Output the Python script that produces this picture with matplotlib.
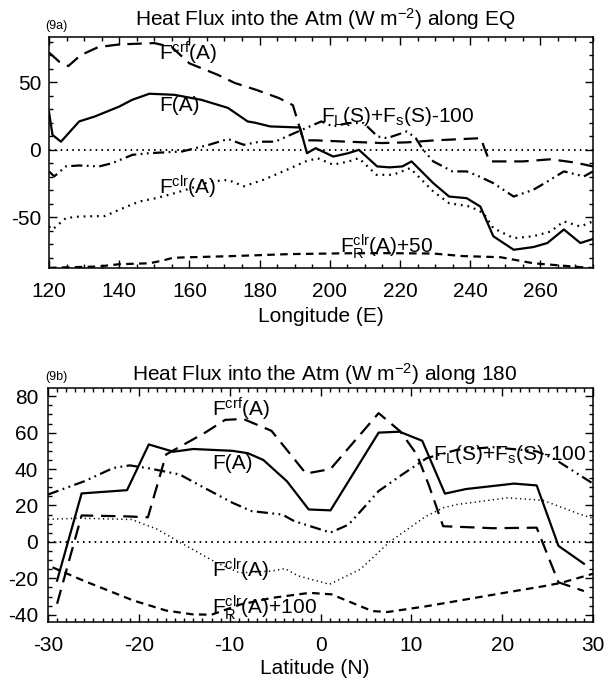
import matplotlib
matplotlib.use("Agg")
import matplotlib.pyplot as plt
from matplotlib.ticker import MultipleLocator

plt.rcParams['font.family'] = ['Liberation Sans', 'DejaVu Sans']
plt.rcParams['mathtext.fontset'] = 'custom'
plt.rcParams['mathtext.rm'] = 'Liberation Sans'
plt.rcParams['mathtext.it'] = 'Liberation Sans:italic'
plt.rcParams['mathtext.bf'] = 'Liberation Sans:bold'
plt.rcParams['axes.unicode_minus'] = False

# ---------------- (9a) along EQ ----------------
lon_crf = [120, 123, 125.5, 129, 134, 140, 150, 155, 160, 168, 173, 179, 185.5, 189.5, 192.5,
           196, 205, 215, 222, 230, 243, 245.5, 255, 263, 270, 275]
val_crf = [72, 65, 62, 70, 76, 78, 79, 76, 64, 55.6, 49.4, 44.4, 38.3, 33, 7,
           7, 6, 5, 5.5, 7, 8.6, -8.6, -8.6, -7, -9.5, -12.3]

lon_fa = [120, 121, 123.4, 128.6, 133, 140, 143.7, 148.6, 155.7, 163.4, 171, 176.6, 178.8, 183, 191.5,
          193.5, 196, 201, 205.3, 208.3, 213.5, 217, 220.7, 223.3, 229.5, 234, 239, 242.9, 246.6,
          252.4, 258, 262, 266.7, 271.4, 275]
val_fa = [28, 11, 6, 21, 24.6, 32, 37, 41.5, 40.7, 37, 31, 21, 20, 17.3, 16.5,
          -2.5, 1.2, -5, -2.5, 0, -12.3, -13, -12.3, -8.6, -24.7, -34.6, -35.8, -42, -64,
          -74, -72, -69, -59, -69, -66]

lon_fl = [120, 121.5, 124.8, 128.6, 134.3, 138, 143.8, 148.6, 158, 165.6, 171, 175.5, 180, 184.4,
          191, 194.3, 197.6, 200.9, 205.3, 209.7, 213.6, 216.3, 222, 224.5, 226.6, 229.5, 235,
          239, 242, 246.6, 252.4, 258, 262, 266.7, 272.4, 275]
val_fl = [-16, -19.7, -12.3, -11.6, -12.3, -9.9, -3.7, -2.5, -1.2, 3.7, 8, 3.7, 6, 6,
          13.6, 17.3, 21, 17.3, 19.8, 19.8, 9.9, 8.6, 13.6, 8.6, 0, -8.6, -16,
          -16, -19, -24.7, -34.6, -29.6, -23.5, -16, -19.7, -16]

lon_clr = [120, 121, 124.8, 128.6, 136, 140, 145.7, 150.5, 156, 161, 166, 171, 175.5, 181, 187.7,
           193, 196.5, 200.9, 205.3, 208.3, 213.3, 218, 222.9, 229.5, 234, 240, 243.8, 246.6,
           252.4, 258, 262.9, 266.7, 271.4, 275]
val_clr = [-56.8, -59, -50.6, -49.4, -49, -44.4, -38.3, -35.8, -32, -28, -23.5, -22.3, -27, -22.3, -14.9,
           -8.7, -6.2, -11, -8.7, -6.2, -18.5, -18.5, -13.6, -30.9, -39.5, -42, -46.9, -58,
           -65.4, -64, -60.5, -53, -56.8, -53]

lon_fr = [120, 124.8, 134, 140, 148.6, 152.4, 155.2, 158, 172, 188.8, 205, 215, 229.5, 238,
          248.6, 258, 265, 275]
val_fr = [-87.4, -87, -86.4, -84.7, -84, -82, -80, -79.7, -78.7, -77.2, -76.6, -76.5, -76.8, -78.7,
          -79.5, -84, -85.5, -87.6]

# ---------------- (9b) along 180 ----------------
lat_fa = [-29, -26.3, -21.3, -18.9, -16.2, -14, -9.7, -8, -6.3, -3.7, -1.3, 1.1, 6.4, 8.7, 11.2,
          13.7, 16, 21.3, 23.8, 26.2, 29]
v_fa = [-21.3, 26.6, 28.4, 53.5, 49.5, 51, 50, 48.7, 45, 33.3, 17.8, 17.3, 60, 60.5, 55.5,
        26.5, 29, 32, 31, -2.2, -12]

lat_crf = [-29, -26.3, -21.3, -19, -17, -12.7, -10.5, -8.5, -5.4, -1.6, 1.1, 6.4, 8.8, 10.6, 11.9,
           13.5, 19, 23.8, 26.2, 29]
v_crf = [-34, 14.5, 14, 13.5, 48, 60, 67, 67.5, 61, 37.5, 40, 70.7, 60.6, 48, 31.5,
         8.6, 7.5, 7.8, -22.2, -27]

lat_fl = [-30, -26, -22.8, -21, -18.8, -15.5, -13.1, -9.7, -7.6, -4.2, -2.9, 1.1, 3.1, 6.4, 9,
          11.7, 15, 19, 23.8, 25.6, 30]
v_fl = [26, 33.3, 40.6, 42, 40.3, 37, 30.5, 21.5, 16.9, 15, 11.4, 5.1, 9.5, 27.9, 37,
        46, 50.5, 52, 49.7, 46, 32]

lat_clr = [-30, -26.5, -20.8, -18, -15.7, -11.4, -8.9, -5.4, -3.9, -2.5, 1, 4.4, 7.6, 11.6, 13.5,
           15, 20.6, 24.5, 28.6, 30]
v_clr = [12.4, 13, 12.3, 7, 0.4, -11.6, -17, -16, -14.7, -18.6, -23.3, -15, 0, 14, 18.7,
         20.5, 24.2, 22.8, 15.1, 13]

lat_fr = [-29.5, -26.1, -20.6, -17, -14.1, -12, -8.9, -5.4, -1.2, 1.2, 5.7, 7.4, 11.6, 15.9,
          20.2, 24.5, 26.5, 30]
v_fr = [-14, -21.3, -32.2, -37.7, -39.8, -40, -34.5, -30.8, -28, -28.8, -38, -38.5, -35.4, -31.7,
        -28, -24.4, -22.5, -17.5]

W, H = 607, 680
fig = plt.figure(figsize=(W / 100, H / 100), dpi=100)

def axrect(x0, x1, ytop, ybot):
    return [x0 / W, 1 - ybot / H, (x1 - x0) / W, (ybot - ytop) / H]

ax1 = fig.add_axes(axrect(49, 593, 37, 268))
ax2 = fig.add_axes(axrect(48, 593, 388, 622))

LW = 1.6
st_crf = dict(color='black', lw=LW, linestyle=(0, (6.5, 3.5)))
st_fa = dict(color='black', lw=LW, linestyle='-')
st_fl = dict(color='black', lw=LW, linestyle=(0, (5, 2, 0.8, 2, 0.8, 2)))
st_clr = dict(color='black', lw=LW, linestyle=(0, (0.8, 2.2)))
st_fr = dict(color='black', lw=LW, linestyle=(0, (3.4, 2.4)))

for ax in (ax1, ax2):
    ax.axhline(0, color='black', lw=1.4, linestyle=(0, (0.8, 2.2)))

ax1.plot(lon_crf, val_crf, **st_crf)
ax1.plot(lon_fa, val_fa, **st_fa)
ax1.plot(lon_fl, val_fl, **st_fl)
ax1.plot(lon_clr, val_clr, **st_clr)
ax1.plot(lon_fr, val_fr, **st_fr)

ax2.plot(lat_crf, v_crf, **st_crf)
ax2.plot(lat_fa, v_fa, **st_fa)
ax2.plot(lat_fl, v_fl, **st_fl)
st_clr2 = dict(st_clr)
st_clr2['lw'] = 1.1
ax2.plot(lat_clr, v_clr, **st_clr2)
ax2.plot(lat_fr, v_fr, **st_fr)

ax1.set_xlim(120, 275)
ax1.set_ylim(-87.5, 83.5)
ax1.xaxis.set_major_locator(MultipleLocator(20))
ax1.xaxis.set_minor_locator(MultipleLocator(5))
ax1.yaxis.set_major_locator(MultipleLocator(50))
ax1.yaxis.set_minor_locator(MultipleLocator(10))

ax2.set_xlim(-30, 30)
ax2.set_ylim(-44, 84.5)
ax2.xaxis.set_major_locator(MultipleLocator(10))
ax2.xaxis.set_minor_locator(MultipleLocator(1))
ax2.yaxis.set_major_locator(MultipleLocator(20))
ax2.yaxis.set_minor_locator(MultipleLocator(5))

for ax, ypad in ((ax1, 5.5), (ax2, 7)):
    ax.tick_params(which='both', direction='in', top=True, right=True, width=1)
    ax.tick_params(which='major', length=6)
    ax.tick_params(which='minor', length=3)
    ax.tick_params(axis='x', which='major', labelsize=15, pad=10)
    ax.tick_params(axis='y', which='major', labelsize=15, pad=ypad)
    for s in ax.spines.values():
        s.set_linewidth(1.1)

fs = 15
# annotations panel a
ax1.text(151.3, 71, 'F$^{\\mathrm{crf}}$(A)', fontsize=fs, ha='left', va='center')
ax1.text(151.3, 33, 'F(A)', fontsize=fs, ha='left', va='center')
ax1.text(197.6, 25, 'F$_{\\mathrm{L}}$(S)+F$_{\\mathrm{s}}$(S)-100', fontsize=fs, ha='left', va='center')
ax1.text(151.3, -27.6, 'F$^{\\mathrm{clr}}$(A)', fontsize=fs, ha='left', va='center')
ax1.text(202.9, -72, 'F$_{\\mathrm{R}}^{\\mathrm{clr}}$(A)+50', fontsize=fs, ha='left', va='center')

# annotations panel b
ax2.text(-11.9, 72.5, 'F$^{\\mathrm{crf}}$(A)', fontsize=fs, ha='left', va='center')
ax2.text(-11.9, 43, 'F(A)', fontsize=fs, ha='left', va='center')
ax2.text(12.4, 48, 'F$_{\\mathrm{L}}$(S)+F$_{\\mathrm{s}}$(S)-100', fontsize=fs, ha='left', va='center')
ax2.text(-12, -15.8, 'F$^{\\mathrm{clr}}$(A)', fontsize=fs, ha='left', va='center')
ax2.text(-12, -36, 'F$_{\\mathrm{R}}^{\\mathrm{clr}}$(A)+100', fontsize=fs, ha='left', va='center')

# titles and labels
fig.text(325 / W, 1 - 19 / H, 'Heat Flux into the Atm (W m$^{\\mathrm{-2}}$) along EQ',
         fontsize=15, ha='center', va='center')
fig.text(325 / W, 1 - 374 / H, 'Heat Flux into the Atm (W m$^{\\mathrm{-2}}$) along 180',
         fontsize=15, ha='center', va='center')
fig.text(56 / W, 1 - 26 / H, '(9a)', fontsize=9, ha='center', va='center')
fig.text(56 / W, 1 - 377 / H, '(9b)', fontsize=9, ha='center', va='center')
fig.text(320.5 / W, 1 - 317 / H, 'Longitude (E)', fontsize=15, ha='center', va='center')
fig.text(315 / W, 1 - 668 / H, 'Latitude (N)', fontsize=15, ha='center', va='center')

fig.savefig('out.png', dpi=100)
